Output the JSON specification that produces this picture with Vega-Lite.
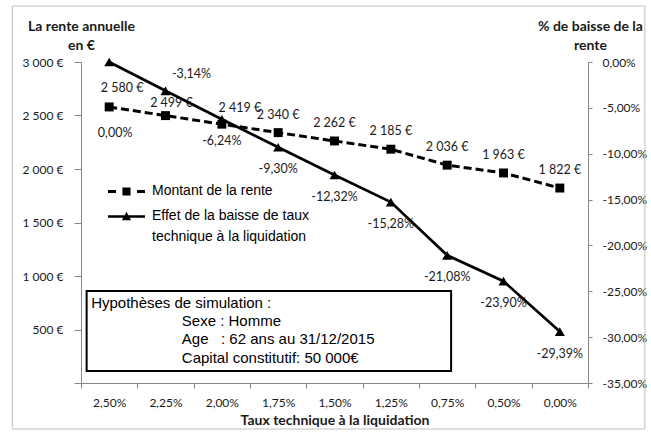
{
  "$schema": "https://vega.github.io/schema/vega-lite/v6.json",
  "width": 507,
  "height": 321,
  "autosize": {"type": "none"},
  "padding": {"left": 81, "top": 62, "right": 63, "bottom": 52},
  "background": "white",
  "config": {
    "locale": {"number": {"decimal": ",", "thousands": " ", "grouping": [3], "currency": ["", " €"], "minus": "-", "percent": "%"}},
    "view": {"stroke": null},
    "axis": {"labelFont": "Lato", "labelFontSize": 12, "labelColor": "#1a1a1a", "titleFont": "Lato", "titleFontSize": 14, "titleFontWeight": "bold", "titleColor": "#1a1a1a", "domainColor": "#868686", "tickColor": "#868686", "grid": false},
    "text": {"font": "Lato", "fontSize": 12.5, "color": "#1a1a1a"}
  },
  "datasets": {
    "rows": [
      {"taux": "2,50%", "rente": 2580, "baisse": 0},
      {"taux": "2,25%", "rente": 2499, "baisse": -0.0314},
      {"taux": "2,00%", "rente": 2419, "baisse": -0.0624},
      {"taux": "1,75%", "rente": 2340, "baisse": -0.093},
      {"taux": "1,50%", "rente": 2262, "baisse": -0.1232},
      {"taux": "1,25%", "rente": 2185, "baisse": -0.1528},
      {"taux": "0,75%", "rente": 2036, "baisse": -0.2108},
      {"taux": "0,50%", "rente": 1963, "baisse": -0.239},
      {"taux": "0,00%", "rente": 1822, "baisse": -0.2939}
    ]
  },
  "layer": [
    {
      "data": {"name": "rows"},
      "encoding": {
        "x": {"field": "taux", "type": "ordinal", "sort": null,
          "scale": {"type": "band", "paddingInner": 0, "paddingOuter": 0},
          "axis": {"title": "Taux technique à la liquidation", "labelAngle": 0, "tickBand": "extent", "tickSize": 5, "labelPadding": 9, "titlePadding": 5}},
        "y": {"field": "rente", "type": "quantitative",
          "scale": {"domain": [0, 3000]},
          "axis": {"orient": "left", "values": [0, 500, 1000, 1500, 2000, 2500, 3000], "format": "$,.0f",
            "labelExpr": "datum.value == 0 ? '' : datum.label",
            "title": ["La rente annuelle", "en €"], "titleAngle": 0, "titleX": 0, "titleY": -43, "titleAlign": "center", "titleBaseline": "top", "titleLineHeight": 19,
            "tickSize": 7, "labelPadding": 11}}
      },
      "layer": [
        {"mark": {"type": "line", "strokeDash": [8, 4], "strokeWidth": 3},
         "encoding": {"color": {"datum": "Montant de la rente", "type": "nominal",
           "scale": {"domain": ["Montant de la rente", "Effet de la baisse de taux technique à la liquidation"], "range": ["black", "black"]},
           "legend": {"orient": "none", "legendX": 27, "legendY": 111, "title": null, "padding": 0,
             "symbolSize": 1369, "symbolStrokeWidth": 0, "symbolFillColor": "black", "symbolOpacity": 1,
             "labelFont": "Liberation Sans", "labelFontSize": 14, "labelColor": "black", "labelOffset": 7, "labelLimit": 400,
             "labelBaseline": "top", "rowPadding": -9,
             "labelExpr": "datum.label == 'Montant de la rente' ? datum.label : ['Effet de la baisse de taux', 'technique à la liquidation']",
             "encode": {
               "symbols": {"update": {
                 "shape": {"signal": "datum.value == 'Montant de la rente' ? 'M-1,-0.08H-0.57V0.08H-1Z M-0.22,-0.22H0.22V0.22H-0.22Z M0.57,-0.08H1V0.08H0.57Z' : 'M-1,-0.07H1V0.07H-1Z M0,-0.26L0.25,0.2H-0.25Z'"},
                 "fill": {"value": "black"}, "stroke": {"value": "black"}, "strokeWidth": {"value": 0}, "opacity": {"value": 1}}},
               "labels": {"update": {"lineHeight": {"value": 21}, "dy": {"value": -8}}}
             }}}}},
        {"mark": {"type": "point", "shape": "square", "filled": true, "size": 80, "opacity": 1},
         "encoding": {"color": {"datum": "Montant de la rente", "type": "nominal"}}},
        {"transform": [{"filter": "datum.taux != '2,50%' && datum.taux != '2,25%' && datum.taux != '2,00%'"}],
         "mark": {"type": "text", "dy": -18},
         "encoding": {"text": {"field": "rente", "type": "quantitative", "format": "$,.0f"}}},
        {"transform": [{"filter": "datum.taux == '2,50%'"}],
         "mark": {"type": "text", "dy": -19, "dx": 13},
         "encoding": {"text": {"field": "rente", "type": "quantitative", "format": "$,.0f"}}},
        {"transform": [{"filter": "datum.taux == '2,25%'"}],
         "mark": {"type": "text", "dy": -13, "dx": 6},
         "encoding": {"text": {"field": "rente", "type": "quantitative", "format": "$,.0f"}}},
        {"transform": [{"filter": "datum.taux == '2,00%'"}],
         "mark": {"type": "text", "dy": -16, "dx": 18},
         "encoding": {"text": {"field": "rente", "type": "quantitative", "format": "$,.0f"}}}
      ]
    },
    {
      "data": {"name": "rows"},
      "encoding": {
        "x": {"field": "taux", "type": "ordinal", "sort": null,
          "scale": {"type": "band", "paddingInner": 0, "paddingOuter": 0}, "axis": null},
        "y": {"field": "baisse", "type": "quantitative",
          "scale": {"domain": [-0.35, 0]},
          "axis": {"orient": "right", "values": [0, -0.05, -0.1, -0.15, -0.2, -0.25, -0.3, -0.35], "format": ".2%",
            "title": ["% de baisse de la", "rente"], "titleAngle": 0, "titleX": 2, "titleY": -43, "titleAlign": "center", "titleBaseline": "top", "titleLineHeight": 19,
            "tickSize": 4, "labelPadding": 10}}
      },
      "layer": [
        {"mark": {"type": "line", "strokeWidth": 2.7},
         "encoding": {"color": {"datum": "Effet de la baisse de taux technique à la liquidation", "type": "nominal"}}},
        {"mark": {"type": "point", "shape": "triangle-up", "filled": true, "size": 100, "opacity": 1},
         "encoding": {"color": {"datum": "Effet de la baisse de taux technique à la liquidation", "type": "nominal"}}},
        {"transform": [{"filter": "datum.taux != '2,50%' && datum.taux != '2,25%'"}],
         "mark": {"type": "text", "dy": 22},
         "encoding": {"text": {"field": "baisse", "type": "quantitative", "format": ".2%"}}},
        {"transform": [{"filter": "datum.taux == '2,25%'"}],
         "mark": {"type": "text", "dy": -17, "dx": 26},
         "encoding": {"text": {"field": "baisse", "type": "quantitative", "format": ".2%"}}},
        {"transform": [{"filter": "datum.taux == '2,50%'"}],
         "mark": {"type": "text", "dy": 71, "dx": 6},
         "encoding": {"text": {"field": "baisse", "type": "quantitative", "format": ".2%"}}}
      ]
    },
    {
      "data": {"values": [{"note": "Hypothèses de simulation"}]},
      "layer": [
        {"mark": {"type": "rect", "fill": null, "stroke": "#bfbfbf", "strokeWidth": 1, "clip": false},
         "encoding": {
           "x": {"datum": -1.22, "type": "quantitative", "scale": {"domain": [0, 9]}, "axis": null},
           "x2": {"datum": 10.01},
           "y": {"datum": 3523, "type": "quantitative", "scale": {"domain": [0, 3000]}, "axis": null},
           "y2": {"datum": -430}}},
        {"mark": {"type": "rect", "fill": "white", "stroke": "black", "strokeWidth": 2},
         "encoding": {
           "x": {"datum": 0.1, "type": "quantitative"},
           "x2": {"datum": 6.57},
           "y": {"datum": 860, "type": "quantitative"},
           "y2": {"datum": 112}}},
        {"mark": {"type": "text", "align": "left", "baseline": "middle", "font": "Liberation Sans", "fontSize": 15, "color": "black", "text": "Hypothèses de simulation :"},
         "encoding": {"x": {"datum": 0.18, "type": "quantitative"}, "y": {"datum": 748, "type": "quantitative"}}},
        {"mark": {"type": "text", "align": "left", "baseline": "middle", "font": "Liberation Sans", "fontSize": 15, "color": "black", "text": "Sexe : Homme"},
         "encoding": {"x": {"datum": 1.79, "type": "quantitative"}, "y": {"datum": 579, "type": "quantitative"}}},
        {"mark": {"type": "text", "align": "left", "baseline": "middle", "font": "Liberation Sans", "fontSize": 15, "color": "black", "text": "Age\u00a0\u00a0\u00a0: 62 ans au 31/12/2015"},
         "encoding": {"x": {"datum": 1.79, "type": "quantitative"}, "y": {"datum": 411, "type": "quantitative"}}},
        {"mark": {"type": "text", "align": "left", "baseline": "middle", "font": "Liberation Sans", "fontSize": 15, "color": "black", "text": "Capital constitutif: 50 000€"},
         "encoding": {"x": {"datum": 1.79, "type": "quantitative"}, "y": {"datum": 234, "type": "quantitative"}}}
      ]
    }
  ],
  "resolve": {"scale": {"x": "independent", "y": "independent"}}
}
